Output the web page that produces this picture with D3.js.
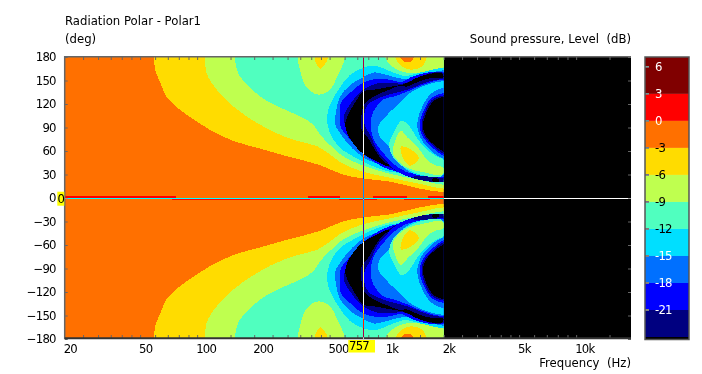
<!DOCTYPE html>
<html>
<head>
<meta charset="utf-8">
<script src="https://cdn.jsdelivr.net/npm/d3@7"></script>
<style>
    html, body { margin: 0; background: #fff; }
    svg { display: block; }
    text { font-family: "DejaVu Sans", sans-serif; font-size: 11.7px; fill: #000; white-space: pre; }
    .Num text, text.Num { letter-spacing: -0.8px; }
    .Axis path, .Axis line { stroke: #666; }
</style>
</head>
<body>
<svg id="chart" width="702" height="374"></svg>
<script>
const freqLabels = [20, 50, 100, 200, 500, 1000, 2000, 5000, 10000]
const freqTicks = [25, 30, 35, 40, 45, 50, 60, 70, 80, 90, 100, 150, 200, 250, 300, 350, 400, 450, 500,
    600, 700, 800, 900, 1000, 1500, 2000, 2500, 3000, 3500, 4000, 4500, 5000, 6000, 7000, 8000, 9000, 10000, 15000]
const angleTicks = [-180, -150, -120, -90, -60, -30, 0, 30, 60, 90, 120, 150, 180]
const scaleLevels = [6, 3, 0, -3, -6, -9, -12, -15, -18, -21]
const bandTops = [7.1, 3, 0, -3, -6, -9, -12, -15, -18, -21, -24]
const bandColors = ['#800000', '#ff0000', '#ff7000', '#ffdc00', '#bfff4f', '#50ffbf', '#00dfff', '#0070ff', '#0000ff', '#000080', '#000000']
const cursorFreq = 757
const cursorAngle = 0

// contour outlines, [Hz, deg], upper half only (the lower half is its mirror)
const below3 = [[59.3, 180], [60, 164], [64, 147], [69, 129], [78, 116], [95, 101], [117, 87], [155, 73], [215, 63], [301, 53], [445, 42], [588, 30], [740, 25], [1040, 21], [1497, 12], [2000, 8], [2000, 180]]
const below6 = [[110, 180], [112, 160], [127, 138], [155, 117], [206, 96], [298, 77], [349, 72], [430, 66], [520, 53], [567, 46], [740, 34], [1040, 26], [1497, 18], [2000, 12], [2000, 180]]
const below9 = [[158, 180], [164, 160], [190, 141], [236, 123], [309, 110], [349, 104], [409, 94], [445, 81], [521, 64], [567, 56], [740, 42], [1040, 31], [1497, 23], [2000, 17], [2000, 180]]
const lobeGreen = [[340, 180], [352, 160], [378, 141], [418, 133], [445, 132], [490, 136], [553, 157], [602, 180]]
const lobeYellow = [[418, 180], [445, 165], [490, 180]]
const topGreen = [[979, 180], [1040, 170], [1220, 161], [1497, 160], [2000, 167], [2000, 180]]
const topYellow = [[1105, 180], [1174, 170], [1326, 164], [1553, 169], [1630, 180]]
const topOrange = [[1174, 180], [1220, 175], [1360, 175], [1395, 180]]
const below12 = [[567, 141], [640, 157], [749, 166], [846, 169], [1040, 162], [1220, 156], [1553, 161], [2000, 166], [2000, 21], [1326, 30], [949, 36], [740, 47.5], [553, 67], [502, 83], [484, 102], [502, 119]]
const below15 = [[567, 129], [640, 144], [749, 154], [846, 160], [1040, 156], [1220, 152], [1553, 157], [2000, 163], [2000, 26], [1275, 33], [1040, 39], [740, 53], [603, 74], [567, 83], [540, 91], [540, 110]]
const below18 = [[567, 119], [640, 134], [749, 147], [883, 152], [1040, 151], [1200, 148], [1340, 154], [1630, 160], [2000, 161], [2000, 23], [1275, 31], [1040, 36], [740, 58], [630, 77], [573, 90], [567, 106]]
const below21 = [[640, 119], [749, 138], [883, 146], [1040, 147], [1220, 146], [1497, 155], [1750, 160], [2000, 160], [2000, 21], [1275, 28], [1040, 39], [846, 53], [740, 64], [640, 82], [603, 93], [596, 106]]
const below24 = [[648, 113], [695, 125], [749, 136], [846, 138], [1040, 142], [1220, 145], [1497, 155], [1750, 159], [1950, 159], [2000, 156], [1630, 152], [1360, 145], [1275, 142], [1200, 143], [1005, 137], [846, 129], [760, 119], [740, 109], [740, 87], [796, 77], [880, 59], [970, 46], [1040, 42], [990, 41], [970, 42], [846, 49], [730, 59], [665, 70], [610, 87], [606, 97]]
const ridgeBlack = [[1740, 23.6], [1900, 22.4], [1900, 21.8], [1740, 22.8]]
const innerBlue = [[796, 119], [921, 128], [1100, 134], [1275, 138], [1410, 142], [1630, 148], [2000, 152], [2000, 26], [1553, 28], [1275, 28], [1105, 36], [1005, 46], [900, 59], [816, 81], [770, 91], [760, 106]]
const innerAzure = [[836, 106], [880, 116], [949, 125], [1105, 130], [1290, 136], [1497, 143], [2000, 151], [2000, 27], [1497, 30], [1275, 33], [1070, 45], [949, 59], [846, 77], [826, 91]]
const innerCyan = [[978, 102], [1040, 110], [1150, 119], [1290, 132], [1497, 141], [2000, 149], [2000, 30], [1326, 33], [1150, 46], [1040, 64], [910, 81], [910, 94]]
const innerTeal = [[1205, 99], [1100, 85], [1030, 68], [1063, 55], [1174, 43], [1326, 35], [2000, 31], [2000, 49], [1840, 53], [1630, 62], [1440, 77], [1326, 91]]
const innerGreen = [[1190, 86], [1105, 72], [1075, 59], [1160, 46], [1275, 39], [1553, 33], [2000, 32.5], [2000, 38], [1790, 42], [1630, 49], [1470, 64], [1290, 77]]
const innerYellow = [[1195, 66], [1290, 64], [1480, 51], [1326, 41], [1220, 51]]
const edgeAzure = [[2000, 141], [1690, 132], [1553, 118], [1460, 100], [1460, 87], [1515, 76], [1690, 61.5], [2000, 50]]
const edgeBlue = [[2000, 134], [1710, 127], [1590, 115], [1505, 100], [1497, 88], [1553, 78], [1730, 65], [2000, 54]]
const edgeNavy = [[2000, 131], [1730, 125], [1620, 114], [1545, 100], [1530, 89], [1580, 79], [1770, 66], [2000, 56]]
const edgeBlack = [[2000, 129], [1750, 123], [1650, 113], [1572, 100], [1553, 90], [1610, 79], [1795, 67], [2000, 59]]

// thin 0..3 dB slivers hugging the axis, frequency ranges in Hz
const sliverAbove = [[20, 77], [384, 567], [846, 1280], [1650, 2000]]
const sliverAxis = [[20, 2000]]
const sliverBelow = [[74, 394], [560, 890], [1240, 1690]]

// painter's order, outermost level first
const layers = [
    [below3, '#ffdc00'], [below6, '#bfff4f'], [below9, '#50ffbf'],
    [lobeGreen, '#bfff4f'], [lobeYellow, '#ffdc00'],
    [topGreen, '#bfff4f'], [topYellow, '#ffdc00'], [topOrange, '#ff7000'],
    [below12, '#00dfff'], [below15, '#0070ff'], [below18, '#0000ff'], [below21, '#000080'], [below24, '#000000'],
    [innerBlue, '#0000ff'], [ridgeBlack, '#000000'], [innerAzure, '#0070ff'], [innerCyan, '#00dfff'],
    [innerTeal, '#50ffbf'], [innerGreen, '#bfff4f'], [innerYellow, '#ffdc00'],
    [edgeAzure, '#0070ff'], [edgeBlue, '#0000ff'], [edgeNavy, '#000080'], [edgeBlack, '#000000']
]

const leftX = 64.7, rightX = 631, topY = 57, bottomY = 339
const freqAt2k = 443.7
const decade = (freqAt2k - leftX) / 2

const scaleFreq = d3.scaleLog()
    .domain([20, 20 * Math.pow(10, (rightX - leftX) / decade)])
    .range([leftX, rightX])
const scaleAngle = d3.scaleLinear().domain([180, -180]).range([topY, bottomY])
const scaleDb = d3.scaleLinear().domain([7.1, -24]).range([57, 337])

const svg = d3.select('#chart')
svg.append('clipPath').attr('id', 'plotClip')
    .append('rect')
    .attr('x', leftX).attr('y', topY)
    .attr('width', scaleFreq(2000) - leftX).attr('height', bottomY - topY)

const plot = svg.append('g')

plot.append('rect')
    .attr('x', leftX).attr('y', topY)
    .attr('width', scaleFreq(2000) - leftX).attr('height', bottomY - topY)
    .attr('fill', '#ff7000')
plot.append('rect')
    .attr('x', scaleFreq(2000)).attr('y', topY)
    .attr('width', rightX - scaleFreq(2000)).attr('height', bottomY - topY)
    .attr('fill', '#000')

const lineFn = d3.line()
    .x(d => scaleFreq(d[0]))
    .y(d => scaleAngle(d[1]))
    .curve(d3.curveCatmullRomClosed.alpha(1))

const contours = plot.append('g')
    .attr('clip-path', 'url(#plotClip)')
    .attr('shape-rendering', 'crispEdges')
layers.forEach(([outline, color]) => {
    [1, -1].forEach(sign => {
        contours.append('path')
            .attr('d', lineFn(outline.map(([f, a]) => [f, a * sign])))
            .attr('fill', color)
    })
})

const sliverRow = (ranges, from, to) => {
    contours.selectAll(null)
        .data(ranges)
        .join('rect')
        .attr('x', d => scaleFreq(d[0]))
        .attr('width', d => scaleFreq(d[1]) - scaleFreq(d[0]))
        .attr('y', scaleAngle(from))
        .attr('height', scaleAngle(to) - scaleAngle(from))
        .attr('fill', '#ff0000')
}
sliverRow(sliverAbove, 2.6, 0)
sliverRow(sliverAxis, 0, -1.28)
sliverRow(sliverBelow, -1.28, -2.9)

// inner ticks, no labels
const tickAxis = (axis, transform) => svg.append('g')
    .classed('Axis', true)
    .attr('transform', transform)
    .call(axis.tickSize(3).tickSizeOuter(0).tickFormat(''))
    .call(g => g.select('.domain').remove())

tickAxis(d3.axisBottom(scaleFreq).tickValues(freqTicks), `translate(0, ${topY})`)
tickAxis(d3.axisTop(scaleFreq).tickValues(freqTicks), `translate(0, ${bottomY - 1})`)
tickAxis(d3.axisRight(scaleAngle).tickValues(angleTicks), `translate(${leftX}, 0)`)
tickAxis(d3.axisLeft(scaleAngle).tickValues(angleTicks), `translate(${rightX}, 0)`)

// frame: grey top and left, near black bottom
svg.append('line')
    .attr('x1', leftX).attr('x2', rightX).attr('y1', topY - 0.2).attr('y2', topY - 0.2)
    .attr('stroke', '#666').attr('stroke-width', 1.5)
svg.append('line')
    .attr('x1', leftX).attr('x2', leftX).attr('y1', topY - 1).attr('y2', bottomY)
    .attr('stroke', '#666').attr('stroke-width', 1.5)
svg.append('line')
    .attr('x1', leftX).attr('x2', rightX).attr('y1', bottomY - 0.7).attr('y2', bottomY - 0.7)
    .attr('stroke', '#333').attr('stroke-width', 2)

const axisFreq = d3.axisBottom(scaleFreq)
    .tickValues(freqLabels)
    .tickSize(0)
    .tickFormat(d => d >= 1000 ? `${d / 1000}k` : d)
svg.append('g')
    .classed('Num', true)
    .attr('transform', `translate(-1.5, ${bottomY + 3})`)
    .call(axisFreq)
    .call(g => g.select('.domain').remove())
    .selectAll('text')
    .attr('text-anchor', 'start')
    .attr('font-family', null).attr('font-size', null)

const axisAngle = d3.axisLeft(scaleAngle)
    .tickValues(angleTicks)
    .tickSize(0)
svg.append('g')
    .classed('Num', true)
    .attr('transform', `translate(${leftX - 6}, 0)`)
    .call(axisAngle)
    .call(g => g.select('.domain').remove())
    .selectAll('text')
    .attr('font-family', null).attr('font-size', null)

// cursors invert whatever they cross, snapped to a pixel column and row
const cursorX = Math.round(scaleFreq(cursorFreq)) - 0.5
const cursorY = Math.round(scaleAngle(cursorAngle)) + 0.5
svg.append('line')
    .attr('x1', cursorX).attr('x2', cursorX)
    .attr('y1', topY).attr('y2', bottomY)
    .attr('stroke', '#fff')
    .style('mix-blend-mode', 'difference')
svg.append('line')
    .attr('x1', leftX).attr('x2', rightX)
    .attr('y1', cursorY).attr('y2', cursorY)
    .attr('stroke', '#fff')
    .style('mix-blend-mode', 'difference')

svg.append('rect')
    .attr('x', cursorX - 15.2).attr('y', bottomY + 1)
    .attr('width', 26.7).attr('height', 12.5)
    .attr('fill', '#ffff00')
svg.append('text')
    .classed('Num', true)
    .attr('x', cursorX - 4.5).attr('y', bottomY + 11)
    .attr('text-anchor', 'middle')
    .text(cursorFreq)
svg.append('rect')
    .attr('x', leftX - 7.4).attr('y', cursorY - 6.8)
    .attr('width', 7).attr('height', 14)
    .attr('fill', '#ffff00')
svg.append('text')
    .classed('Num', true)
    .attr('x', leftX - 4).attr('y', cursorY + 4.5)
    .attr('text-anchor', 'middle')
    .text(cursorAngle)

// colour scale
const barX = 645, barWidth = 44
const bar = svg.append('g').classed('Num', true)
bar.selectAll('rect')
    .data(bandColors)
    .join('rect')
    .attr('x', barX)
    .attr('width', barWidth)
    .attr('y', (d, i) => scaleDb(bandTops[i]))
    .attr('height', (d, i) => (i < 10 ? scaleDb(bandTops[i + 1]) : 339.5) - scaleDb(bandTops[i]))
    .attr('fill', d => d)
bar.selectAll('line')
    .data(scaleLevels)
    .join('line')
    .attr('x1', barX).attr('x2', barX + 4)
    .attr('y1', d => scaleDb(d)).attr('y2', d => scaleDb(d))
    .attr('stroke', '#fff')
    .style('mix-blend-mode', 'difference')
bar.selectAll('text')
    .data(scaleLevels)
    .join('text')
    .attr('x', barX + 10)
    .attr('y', d => scaleDb(d) + 4)
    .style('fill', d => (d >= 0 || d <= -15) ? '#fff' : '#000')
    .text(d => d)
bar.append('rect')
    .attr('x', barX).attr('y', 57)
    .attr('width', barWidth).attr('height', 282.5)
    .attr('fill', 'none').attr('stroke', '#555').attr('stroke-width', 1.5)

svg.append('text').attr('x', 65).attr('y', 25).text('Radiation Polar - Polar1')
svg.append('text').attr('x', 65).attr('y', 43).text('(deg)')
svg.append('text').attr('x', 631).attr('y', 43).attr('text-anchor', 'end').text('Sound pressure, Level  (dB)')
svg.append('text').attr('x', 631).attr('y', 367).attr('text-anchor', 'end').text('Frequency  (Hz)')
</script>
</body>
</html>
